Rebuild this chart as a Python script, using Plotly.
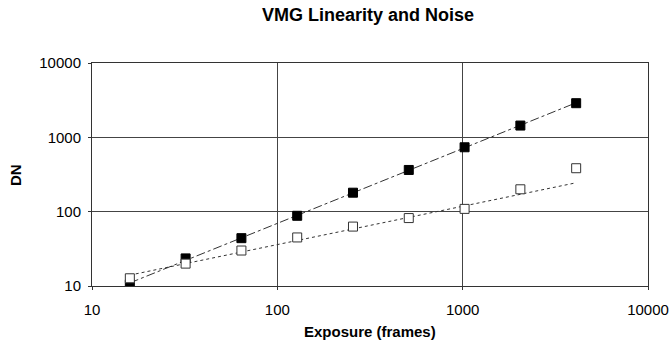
import numpy as np
import plotly.graph_objects as go

exposure = [16, 32, 64, 128, 256, 512, 1024, 2048, 4096]
signal_dn = [10.5, 23.5, 44, 88, 180, 364, 735, 1440, 2880]
noise_dn = [12.7, 20, 30, 45, 63, 82, 109, 200, 384]
x_ticks = [10, 100, 1000, 10000]
y_ticks = [10, 100, 1000, 10000]
x_tick_labels = ["10", "100", "1000", "10000"]
y_tick_labels = ["10", "100", "1000", "10000"]

def power_fit(x, y, n=None):
    lx = np.log10(np.array(x[:n], dtype=float))
    ly = np.log10(np.array(y[:n], dtype=float))
    b, a = np.polyfit(lx, ly, 1)
    xs = np.array(x, dtype=float)
    return (10 ** a) * xs ** b

sig_fit = power_fit(exposure, signal_dn)
noise_fit = power_fit(exposure, noise_dn, 7)

fig = go.Figure()
fig.add_trace(go.Scatter(x=exposure, y=sig_fit, mode="lines",
                         line=dict(color="#333333", width=1, dash="dashdot"),
                         showlegend=False, hoverinfo="skip"))
fig.add_trace(go.Scatter(x=exposure, y=noise_fit, mode="lines",
                         line=dict(color="#333333", width=1, dash="dot"),
                         showlegend=False, hoverinfo="skip"))
fig.add_trace(go.Scatter(x=exposure, y=signal_dn, mode="markers",
                         marker=dict(symbol="square", size=9, color="black",
                                     line=dict(color="black", width=1)),
                         showlegend=False))
fig.add_trace(go.Scatter(x=exposure, y=noise_dn, mode="markers",
                         marker=dict(symbol="square", size=9, color="white",
                                     line=dict(color="#333333", width=1)),
                         showlegend=False))

W, H = 672, 353
L, R, T, B = 92, 24, 63, 67
PW, PH = W - L - R, H - T - B

font_family = "Liberation Sans, Arial, sans-serif"
fig.update_layout(
    width=W, height=H,
    margin=dict(l=L, r=R, t=T, b=B, autoexpand=False),
    paper_bgcolor="white", plot_bgcolor="white",
    font=dict(family=font_family, size=15, color="black"),
    title=dict(text="<b>VMG Linearity and Noise</b>", x=368 / W, xanchor="center",
               y=1 - 15 / H, yanchor="middle", yref="container",
               font=dict(size=18, family=font_family, color="black")),
    xaxis=dict(type="log", range=[1, 4], tickvals=x_ticks, ticktext=x_tick_labels,
               showgrid=True, gridcolor="#444444", gridwidth=1,
               showline=True, linecolor="#333333", linewidth=1, mirror=True,
               ticks="outside", ticklen=3, tickcolor="#333333",
               zeroline=False, automargin=False, ticklabelstandoff=7,
               tickfont=dict(size=15)),
    yaxis=dict(type="log", range=[1, 4], tickvals=y_ticks, ticktext=y_tick_labels,
               showgrid=True, gridcolor="#444444", gridwidth=1,
               showline=True, linecolor="#333333", linewidth=1, mirror=True,
               ticks="outside", ticklen=3, tickcolor="#333333",
               zeroline=False, automargin=False, ticklabelstandoff=4,
               tickfont=dict(size=15)),
    annotations=[
        dict(text="<b>Exposure (frames)</b>", xref="paper", yref="paper",
             x=(370 - L) / PW, y=-(331 - (H - B)) / PH, xanchor="center", yanchor="middle",
             showarrow=False, font=dict(size=15)),
        dict(text="<b>DN</b>", xref="paper", yref="paper",
             x=-(L - 15) / PW, y=((H - B) - 175) / PH, xanchor="center", yanchor="middle",
             textangle=-90, showarrow=False, font=dict(size=15)),
    ],
)

fig.write_html("out.html",
               config={"displayModeBar": False},
               post_script="document.body.style.margin='0';document.body.style.padding='0';")
